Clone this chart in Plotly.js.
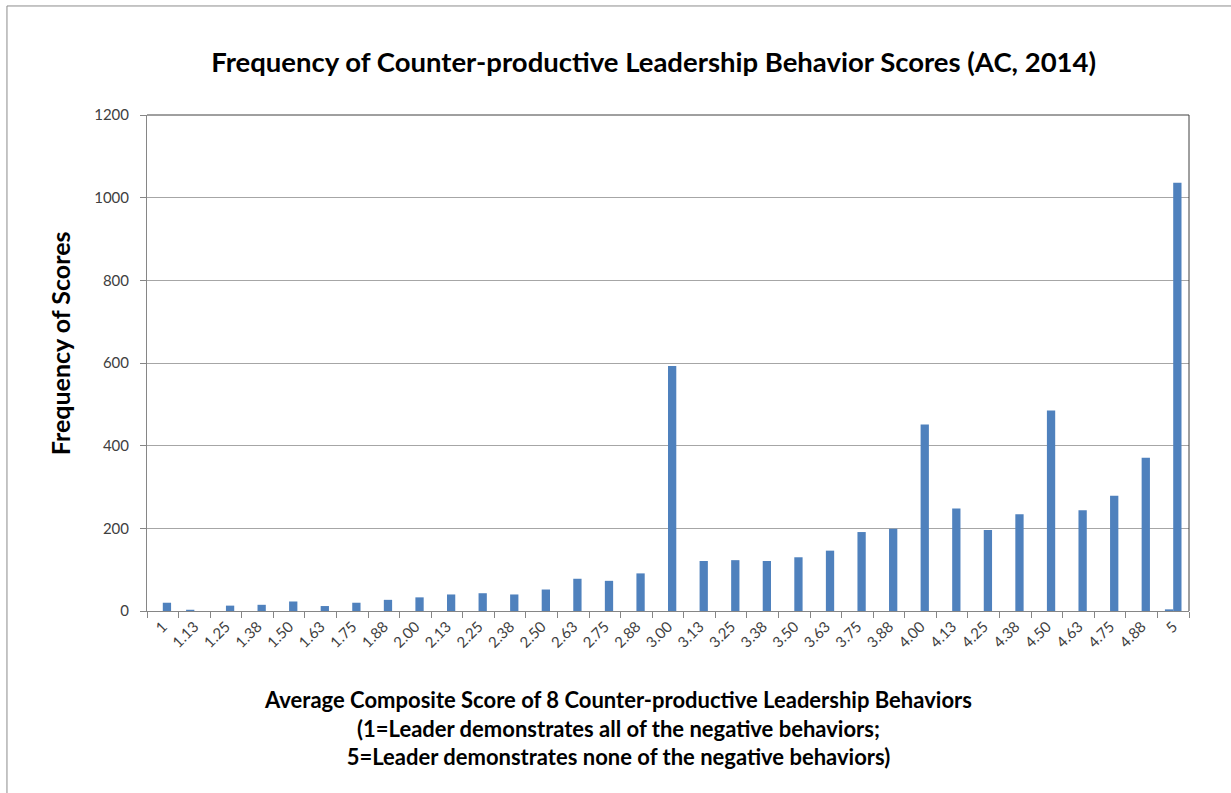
<!DOCTYPE html>
<html>
<head>
<meta charset="utf-8">
<script src="https://cdn.plot.ly/plotly-3.0.1.min.js"></script>
<style>
  html, body { margin: 0; padding: 0; background: #ffffff; }
  #plot { width: 1231px; height: 793px; }
</style>
</head>
<body>
<div id="plot"></div>
<script>
// score categories, as printed under the axis
var scores = ["1","1.13","1.25","1.38","1.50","1.63","1.75","1.88","2.00","2.13","2.25",
	"2.38","2.50","2.63","2.75","2.88","3.00","3.13","3.25","3.38","3.50","3.63",
	"3.75","3.88","4.00","4.13","4.25","4.38","4.50","4.63","4.75","4.88","5"];

// left bar of each group (almost always empty)
var countsLeft = [0,3,0,0,0,0,0,0,0,0,0,
	0,0,0,0,0,0,0,0,0,0,0,
	0,0,0,0,0,0,0,0,0,0,4];

// right bar of each group
var countsRight = [20,0,13,15,23,12,20,27,33,40,43,
	40,52,78,73,91,593,121,123,121,130,146,
	191,199,451,248,196,234,485,244,279,371,1036];

var yTicks = [0,200,400,600,800,1000,1200];

var barColor = "#4F81BD";
var font = "Lato, 'Open Sans', sans-serif";

var traces = [
	{
		x : scores,
		y : countsLeft,
		type : 'bar',
		marker : { color : barColor },
		hoverinfo : 'x+y'
	},
	{
		x : scores,
		y : countsRight,
		type : 'bar',
		marker : { color : barColor },
		hoverinfo : 'x+y'
	}
];

var layout = {
	width : 1231,
	height : 793,
	showlegend : false,
	barmode : 'group',
	bargap : 0.475,
	bargroupgap : 0,
	paper_bgcolor : '#ffffff',
	plot_bgcolor : '#ffffff',
	font : { family : font, size : 15, color : '#404040' },
	margin : { l : 147, r : 42, t : 115, b : 182, pad : 0 },
	title : {
		text : '<b>Frequency of Counter-productive Leadership Behavior Scores (AC, 2014)</b>',
		font : { family : font, size : 27.5, color : '#000000' },
		xref : 'container',
		x : 0.531,
		xanchor : 'center',
		yref : 'container',
		y : 0.921,
		yanchor : 'middle'
	},
	xaxis : {
		type : 'category',
		tickangle : -45,
		ticks : 'outside',
		ticklen : 6,
		tickcolor : '#868686',
		tickson : 'boundaries',
		showgrid : false,
		showline : true,
		linecolor : '#868686',
		linewidth : 1,
		tickfont : { family : font, size : 15, color : '#404040' },
		fixedrange : true
	},
	yaxis : {
		range : [0, 1200],
		tickvals : yTicks,
		ticks : 'outside',
		ticklen : 6,
		tickcolor : '#868686',
		ticklabelstandoff : 8,
		showgrid : true,
		gridcolor : '#a6a6a6',
		gridwidth : 1,
		zeroline : false,
		showline : true,
		linecolor : '#868686',
		linewidth : 1,
		tickfont : { family : font, size : 15, color : '#404040' },
		fixedrange : true
	},
	shapes : [
		// plot frame, top and right edges
		{ type : 'line', xref : 'paper', yref : 'paper', x0 : 0, x1 : 1, y0 : 1, y1 : 1,
			line : { color : '#404040', width : 1 } },
		{ type : 'line', xref : 'paper', yref : 'paper', x0 : 1, x1 : 1, y0 : 0, y1 : 1,
			line : { color : '#404040', width : 1 } },
		// chart area border
		{ type : 'rect', xref : 'paper', yref : 'paper', layer : 'below',
			x0 : -0.1344, x1 : 1.06, y0 : -0.40, y1 : 1.2198,
			line : { color : '#8c8c8c', width : 1 } }
	],
	annotations : [
		{
			text : '<b>Frequency of Scores</b>',
			textangle : -90,
			xref : 'paper', yref : 'paper',
			x : -0.0835, y : 0.54,
			xanchor : 'center', yanchor : 'middle',
			showarrow : false,
			font : { family : font, size : 25, color : '#000000' }
		},
		{
			text : '<b>Average Composite Score of 8 Counter-productive Leadership Behaviors<br>(1=Leader demonstrates all of the negative behaviors;<br>5=Leader demonstrates none of the negative behaviors)</b>',
			xref : 'paper', yref : 'paper',
			x : 0.452, y : -0.236,
			xanchor : 'center', yanchor : 'middle',
			align : 'center',
			showarrow : false,
			font : { family : font, size : 22, color : '#000000' }
		}
	]
};

Plotly.newPlot("plot", traces, layout, { displayModeBar : false, staticPlot : true });
</script>
</body>
</html>
